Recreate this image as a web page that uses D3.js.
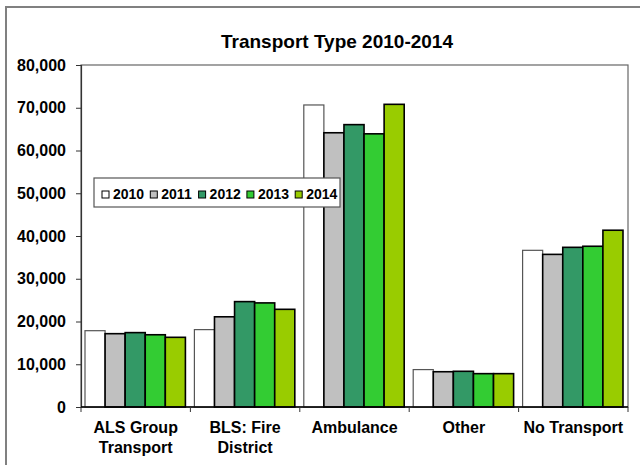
<!DOCTYPE html>
<html>
<head>
<meta charset="utf-8">
<script src="https://cdn.jsdelivr.net/npm/d3@7"></script>
<style>
  body { margin: 0; background: #fff; }
  text { font-family: "Liberation Sans", Arial, sans-serif; font-weight: bold; fill: #000; }
</style>
</head>
<body>
<script>
//chart data
var categories = ["ALS Group\nTransport", "BLS: Fire\nDistrict", "Ambulance", "Other", "No Transport"];
var years = ["2010", "2011", "2012", "2013", "2014"];
var values = {
    "2010": [17850, 18100, 70650, 8750, 36650],
    "2011": [17150, 21100, 64150, 8250, 35700],
    "2012": [17400, 24650, 66050, 8350, 37350],
    "2013": [16900, 24350, 63900, 7800, 37600],
    "2014": [16300, 22850, 70800, 7800, 41350]
};
var yTicks = [0, 10000, 20000, 30000, 40000, 50000, 60000, 70000, 80000];
var colors = ["#ffffff", "#c0c0c0", "#339966", "#33cc33", "#99cc00"];

//properties of the screen
var widthScr = 640;
var heightScr = 465;
var plotLeft = 81, plotRight = 628, plotTop = 65, plotBottom = 407;

var svg = d3.select("body").append("svg")
    .attr("width", widthScr)
    .attr("height", heightScr);

//outer chart frame
svg.append("rect")
    .attr("x", 6).attr("y", 7)
    .attr("width", 700).attr("height", 500)
    .attr("fill", "#fff")
    .attr("stroke", "#808080")
    .attr("stroke-width", 2);

//scales
var x0 = d3.scaleBand().domain(categories).range([plotLeft, plotRight]);
var x1 = d3.scaleBand().domain(years).range([4, x0.bandwidth() - 5]);
var y = d3.scaleLinear().domain([0, 80000]).range([plotBottom, plotTop]);
var color = d3.scaleOrdinal().domain(years).range(colors);

//plot area box
svg.append("rect")
    .attr("x", plotLeft).attr("y", plotTop)
    .attr("width", plotRight - plotLeft).attr("height", plotBottom - plotTop)
    .attr("fill", "none")
    .attr("stroke", "#666")
    .attr("stroke-width", 1.2);

//title
svg.append("text")
    .attr("x", 337).attr("y", 48)
    .attr("text-anchor", "middle")
    .style("font-size", "19px")
    .text("Transport Type 2010-2014");

//bars
var groups = svg.selectAll("g.group")
    .data(categories)
    .enter().append("g")
    .attr("class", "group")
    .attr("transform", function(d) { return "translate(" + x0(d) + ",0)"; });

groups.selectAll("rect")
    .data(function(d, i) { return years.map(function(yr) { return { year: yr, value: values[yr][i] }; }); })
    .enter().append("rect")
    .attr("x", function(d) { return x1(d.year); })
    .attr("y", function(d) { return y(d.value); })
    .attr("width", x1.bandwidth())
    .attr("height", function(d) { return plotBottom - y(d.value); })
    .attr("fill", function(d) { return color(d.year); })
    .attr("stroke", function(d) { return d.year === "2010" ? "#555" : "#000"; })
    .attr("stroke-width", function(d) { return d.year === "2010" ? 1.2 : 1.6; });

//y axis
var yAxis = svg.append("g")
    .attr("transform", "translate(" + plotLeft + ",0)")
    .call(d3.axisLeft(y).tickValues(yTicks).tickFormat(d3.format(",")).tickSize(5).tickPadding(10));
yAxis.select(".domain").attr("stroke", "#333").attr("stroke-width", 1.2);
yAxis.selectAll(".tick line").attr("stroke", "#333");
yAxis.selectAll("text")
    .attr("fill", "#000")
    .style("font-size", "16px")
    .style("font-family", "'Liberation Sans', Arial, sans-serif")
    .style("font-weight", "bold");

//x axis line and boundary ticks
svg.append("line")
    .attr("x1", plotLeft).attr("x2", plotRight)
    .attr("y1", plotBottom).attr("y2", plotBottom)
    .attr("stroke", "#000").attr("stroke-width", 1.5);

svg.selectAll("line.xtick")
    .data(categories.concat(["end"]))
    .enter().append("line")
    .attr("class", "xtick")
    .attr("x1", function(d) { return d === "end" ? plotRight : x0(d); })
    .attr("x2", function(d) { return d === "end" ? plotRight : x0(d); })
    .attr("y1", plotBottom).attr("y2", plotBottom + 5)
    .attr("stroke", "#333");

//category labels
var labels = svg.selectAll("text.cat")
    .data(categories)
    .enter().append("text")
    .attr("class", "cat")
    .attr("text-anchor", "middle")
    .style("font-size", "16px")
    .attr("transform", function(d) { return "translate(" + (x0(d) + x0.bandwidth() / 2) + "," + (plotBottom + 26) + ")"; });

labels.selectAll("tspan")
    .data(function(d) { return d.split("\n"); })
    .enter().append("tspan")
    .attr("x", 0)
    .attr("y", function(d, i) { return i * 20; })
    .text(function(d) { return d; });

//legend
var legend = svg.append("g").attr("transform", "translate(94,178)");
legend.append("rect")
    .attr("width", 246).attr("height", 29)
    .attr("fill", "#fff")
    .attr("stroke", "#555")
    .attr("stroke-width", 1.2);

var items = legend.selectAll("g.item")
    .data(years)
    .enter().append("g")
    .attr("class", "item")
    .attr("transform", function(d, i) { return "translate(" + (8 + i * 48.3) + ",0)"; });

items.append("rect")
    .attr("y", 13).attr("width", 7).attr("height", 7)
    .attr("fill", function(d) { return color(d); })
    .attr("stroke", "#000")
    .attr("stroke-width", 1);

items.append("text")
    .attr("x", 11).attr("y", 20.5)
    .style("font-size", "14px")
    .text(function(d) { return d; });
</script>
</body>
</html>
